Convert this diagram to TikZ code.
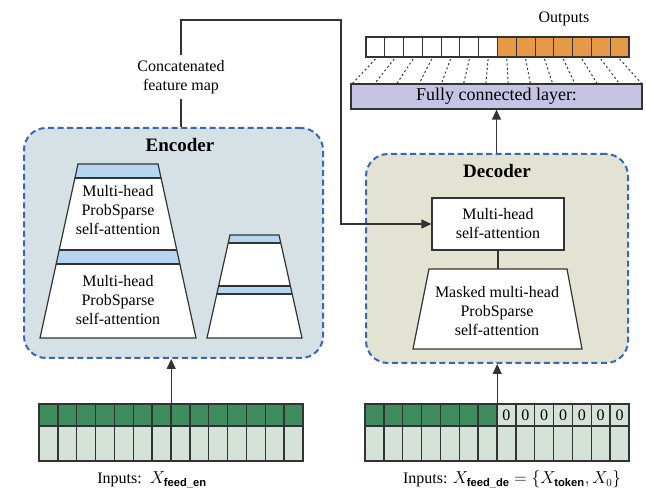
\documentclass[tikz,border=0pt]{standalone}
\usepackage{amsmath}
\usepackage{fontspec}
\setmainfont{Liberation Serif}
\newfontfamily\subsf{Liberation Sans}
\usetikzlibrary{arrows.meta}

\definecolor{dashblue}{HTML}{3A66B8}
\definecolor{encfill}{HTML}{D5E1E5}
\definecolor{decfill}{HTML}{E3E3D4}
\definecolor{bandblue}{HTML}{B5D5F0}
\definecolor{dkgreen}{HTML}{3F8D5E}
\definecolor{ltgreen}{HTML}{D4E2D7}
\definecolor{outorange}{HTML}{E69A48}
\definecolor{fcpurple}{HTML}{C6C4E4}
\definecolor{linegray}{HTML}{333333}

\newcommand{\subtxt}[1]{\text{\subsf\bfseries #1}}

\begin{document}
\begin{tikzpicture}[x=1pt,y=-1pt,
  font=\fontsize{16}{19}\selectfont,
  frame/.style={draw=dashblue, line width=2pt, dash pattern=on 6pt off 3.5pt, rounded corners=22pt},
  edge/.style={draw=linegray, line width=1.2pt},
  arr/.style={edge, -{Triangle[length=10pt,width=9pt]}},
  cell/.style={draw=linegray, line width=1.3pt},
  lbl/.style={align=center, inner sep=0pt},
  trap/.style={draw=linegray, line width=1.2pt},
  fcdash/.style={draw=linegray, line width=1pt, dash pattern=on 2pt off 2.5pt}]

\useasboundingbox (0,0) rectangle (646,494);

% ---------- encoder and decoder frames ----------
\node[frame, fill=encfill, minimum width=299pt, minimum height=230pt, anchor=north west, inner sep=0pt] (enc) at (23,127) {};
\node[font=\fontsize{19}{22}\selectfont\bfseries, lbl] (enctitle) at (180,145) {Encoder};

\node[frame, fill=decfill, minimum width=262pt, minimum height=209pt, anchor=north west, inner sep=0pt] (dec) at (365,153) {};
\node[font=\fontsize{19}{22}\selectfont\bfseries, lbl] (dectitle) at (497,171) {Decoder};

% ---------- encoder stack: large trapezoid ----------
\fill[white] (78,164) -- (158,164) -- (196,338) -- (40,338) -- cycle;
\begin{scope}
  \clip (78,164) -- (158,164) -- (196,338) -- (40,338) -- cycle;
  \fill[bandblue] (0,164) rectangle (646,178);
  \fill[bandblue] (0,250) rectangle (646,264);
  \draw[trap] (0,178) -- (646,178);
  \draw[trap] (0,250) -- (646,250);
  \draw[trap] (0,264) -- (646,264);
\end{scope}
\draw[trap] (78,164) -- (158,164) -- (196,338) -- (40,338) -- cycle;
\node[lbl] (mh1) at (118,210) {Multi-head\\ProbSparse\\self-attention};
\node[lbl] (mh2) at (118,300) {Multi-head\\ProbSparse\\self-attention};

% ---------- encoder stack: small trapezoid ----------
\fill[white] (230,235) -- (279,235) -- (302,338) -- (207,338) -- cycle;
\begin{scope}
  \clip (230,235) -- (279,235) -- (302,338) -- (207,338) -- cycle;
  \fill[bandblue] (0,235) rectangle (646,243);
  \fill[bandblue] (0,286) rectangle (646,294);
  \draw[trap] (0,243) -- (646,243);
  \draw[trap] (0,286) -- (646,286);
  \draw[trap] (0,294) -- (646,294);
\end{scope}
\draw[trap] (230,235) -- (279,235) -- (302,338) -- (207,338) -- cycle;

% ---------- decoder blocks ----------
\node[draw=linegray, line width=1.2pt, fill=white, minimum width=132pt, minimum height=52pt, lbl] (mhsa) at (498,224) {Multi-head\\self-attention};
\coordinate (mtop) at (498,269);
\draw[trap, fill=white] (429,269) -- (567,269) -- (582,349) -- (413,349) -- cycle;
\node[lbl] (mmh) at (497,311) {Masked multi-head\\ProbSparse\\self-attention};
\draw[edge] (mhsa.south) -- (mtop);

% ---------- fully connected layer and outputs ----------
\node[draw=linegray, line width=1.2pt, fill=fcpurple, minimum width=291pt, minimum height=25pt, inner sep=0pt, font=\fontsize{18}{20}\selectfont] (fc) at (496.5,96.5) {Fully connected layer:};
\node[lbl] (outlbl) at (564,19) {Outputs};

\fill[outorange] ({366+7*263/14},37) rectangle (629,57);
\foreach \i in {0,...,13}{
  \draw[cell, line width=1.1pt] ({366+\i*263/14},37) rectangle ++({263/14},20);
  \draw[fcdash] ({366+(\i+0.5)*263/14},59) -- ({352+\i*290/13},84);
}

\draw[arr] (dec.north -| fc.south) -- (fc.south);

% ---------- concatenated feature map path ----------
\node[lbl] (concat) at (181,77) {Concatenated\\feature map};
\coordinate (bend) at (341,20);
\draw[edge] (enc.north -| concat.south) -- ([yshift=-5pt]concat.south);
\draw[arr] ([yshift=5pt]concat.north) |- (bend) |- (mhsa.west);

% ---------- encoder inputs ----------
\node[inner sep=0pt, minimum width=264pt, minimum height=57pt, anchor=north west] (eninp) at (39,404) {};
\fill[dkgreen] (39,404) rectangle (303,426);
\fill[ltgreen] (39,426) rectangle (303,461);
\foreach \i in {1,...,13}
  \draw[cell] ({39+\i*264/14},404) -- ++(0,57);
\draw[cell] (39,404) rectangle (303,461);
\draw[cell] (39,426) -- (303,426);
\draw[arr] (eninp.north) -- (eninp.north |- enc.south);
\node[lbl, anchor=base] (enlbl) at (152,484) {Inputs:\ \ $X_{\subtxt{feed\_en}}$};

% ---------- decoder inputs ----------
\node[inner sep=0pt, minimum width=264pt, minimum height=57pt, anchor=north west] (deinp) at (365,404) {};
\fill[dkgreen] (365,404) rectangle (497,426);
\fill[ltgreen] (497,404) rectangle (629,426);
\fill[ltgreen] (365,426) rectangle (629,461);
\foreach \i in {1,...,13}
  \draw[cell] ({365+\i*264/14},404) -- ++(0,57);
\foreach \i in {7,...,13}
  \node[lbl] at ({365+(\i+0.5)*264/14},415) {0};
\draw[cell] (365,404) rectangle (629,461);
\draw[cell] (365,426) -- (629,426);
\draw[arr] (deinp.north) -- (deinp.north |- dec.south);
\node[lbl, anchor=base] (delbl) at (512,484) {Inputs: $X_{\subtxt{feed\_de}} = \{X_{\subtxt{token}}, X_0\}$};

\end{tikzpicture}
\end{document}
